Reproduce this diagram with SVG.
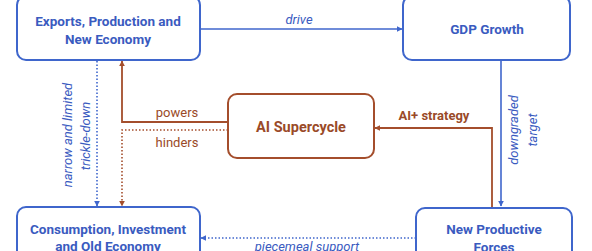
<svg xmlns="http://www.w3.org/2000/svg" width="592" height="251" viewBox="0 0 592 251">
<defs>
<style>
.nb{fill:#fff;stroke:#3f66cc;stroke-width:2}
.nr{fill:#fff;stroke:#a44e2c;stroke-width:2}
.tb{font-family:Roboto,"Liberation Sans",sans-serif;font-weight:bold;font-size:13.5px;fill:#3a5bbf;text-anchor:middle}
.tr{font-family:Roboto,"Liberation Sans",sans-serif;font-weight:bold;font-size:14.5px;fill:#9a4a28;text-anchor:middle}
.lb{font-family:Roboto,"Liberation Sans",sans-serif;font-style:italic;font-size:13px;fill:#3a5bbf;text-anchor:middle}
.lr{font-family:Roboto,"Liberation Sans",sans-serif;font-size:13px;fill:#9a4a28;text-anchor:middle}
.cb{fill:none;stroke:#3f66cc;stroke-width:1.6}
.cbd{fill:none;stroke:#3f66cc;stroke-width:1.6;stroke-dasharray:1.5 2}
.cr{fill:none;stroke:#a44e2c;stroke-width:1.8}
.crd{fill:none;stroke:#a44e2c;stroke-width:1.6;stroke-dasharray:1.5 2}
</style>
<marker id="ab" viewBox="0 0 10 10" refX="9" refY="5" markerWidth="6" markerHeight="6" markerUnits="userSpaceOnUse" orient="auto"><path d="M0,0 L10,5 L0,10 z" fill="#3f66cc"/></marker>
<marker id="ar" viewBox="0 0 10 10" refX="9" refY="5" markerWidth="6" markerHeight="6" markerUnits="userSpaceOnUse" orient="auto"><path d="M0,0 L10,5 L0,10 z" fill="#a44e2c"/></marker>
</defs>
<rect width="592" height="251" fill="#fff"/>
<g id="connectors">
<path class="cb" d="M200,29 H402" marker-end="url(#ab)"/>
<text class="lb" x="299" y="24">drive</text>
<path class="cb" d="M501,60 V206" marker-end="url(#ab)"/>
<text class="lb" transform="translate(518,130) rotate(-90)">downgraded</text>
<text class="lb" transform="translate(537,130) rotate(-90)">target</text>
<path class="cr" d="M492,208 V128 H375" marker-end="url(#ar)"/>
<text class="lr" x="434" y="120" font-weight="bold">AI+ strategy</text>
<path class="cr" d="M228,122 H122 V61" marker-end="url(#ar)"/>
<text class="lr" x="177" y="117">powers</text>
<path class="crd" d="M228,130 H122 V206" marker-end="url(#ar)"/>
<text class="lr" x="177" y="147">hinders</text>
<path class="cbd" d="M97,61 V206" marker-end="url(#ab)"/>
<text class="lb" transform="translate(72,135) rotate(-90)">narrow and limited</text>
<text class="lb" transform="translate(90,136) rotate(-90)">trickle-down</text>
<path class="cbd" d="M416,238 H201" marker-end="url(#ab)"/>
<text class="lb" x="307" y="251">piecemeal support</text>
</g>
<g id="exports">
<rect class="nb" x="17" y="-4" width="183" height="64" rx="9"/>
<text class="tb" x="108" y="26">Exports, Production and</text>
<text class="tb" x="108" y="44">New Economy</text>
</g>
<g id="gdp">
<rect class="nb" x="403" y="-4" width="167" height="64" rx="9"/>
<text class="tb" x="487" y="34">GDP Growth</text>
</g>
<g id="ai">
<rect class="nr" x="228" y="94" width="146" height="64" rx="9"/>
<text class="tr" x="301" y="132">AI Supercycle</text>
</g>
<g id="consumption">
<rect class="nb" x="17" y="207" width="183" height="60" rx="9"/>
<text class="tb" x="108" y="234">Consumption, Investment</text>
<text class="tb" x="108" y="251">and Old Economy</text>
</g>
<g id="npf">
<rect class="nb" x="416" y="208" width="156" height="60" rx="9"/>
<text class="tb" x="494" y="234">New Productive</text>
<text class="tb" x="494" y="252">Forces</text>
</g>
</svg>
